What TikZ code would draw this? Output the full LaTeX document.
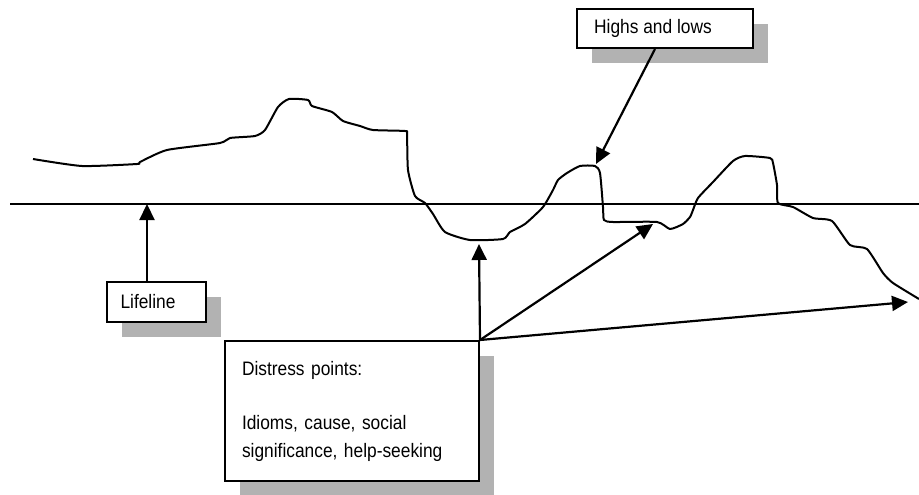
\documentclass[tikz,border=0pt]{standalone}
\usepackage{fontspec}
\setmainfont{Liberation Sans}[FakeStretch=0.89]
\usetikzlibrary{arrows.meta,shadows}

\begin{document}
\begin{tikzpicture}[x=1pt,y=-1pt,
   every node/.style={font=\fontsize{19.5}{28}\selectfont},
   note/.style={draw,line width=2pt,fill=white,inner sep=0pt,
      drop shadow={shadow xshift=15pt,shadow yshift=-15pt,fill=black!30,opacity=1}},
   pointer/.style={line width=2.2pt,-{Triangle[length=16pt,width=15pt]}}]
\useasboundingbox (0,0) rectangle (919,495);

% baseline of the lifeline
\coordinate (ll) at (10,204);
\coordinate (lr) at (919,204);
\draw[line width=1.6pt] (ll) -- (lr);

% the life course
\draw[line width=2pt,line join=round] plot[smooth,tension=0.35] coordinates {
  (33,159) (82,166) (137,164) (140,162) (167,150) (220,143) (230,138)
  (255,136) (265,130) (278,107) (289,99) (308,100) (312,106) (332,112)
  (343,121) (360,126) (373,130) (405,131) (407,134) (408,170) (415,196)
  (425,203) (433,214) (445,232) (470,240) (503,239) (510,232) (525,224)
  (543,207) (553,190) (558,180) (567,173) (580,166) (595,166) (600,173)
  (603,207) (604,220) (613,222) (657,222) (670,229) (683,224) (690,217)
  (693,210) (698,198) (713,182) (733,161) (745,156) (770,158) (773,163)
  (777,185) (778,203) (793,207) (813,218) (832,221) (850,245) (867,249)
  (883,273) (893,283) (919,299)};

\coordinate (cross) at (147,204);
\coordinate (peak) at (596,164);
\coordinate (dip) at (479,244);
\coordinate (flat) at (653,224);
\coordinate (tail) at (908,302);

\node[note,minimum width=176pt,minimum height=39pt] (highs) at (665,28.5)
   {\hspace*{-24pt}Highs and lows};
\node[note,minimum width=99pt,minimum height=40pt] (lifeline) at (156.5,302)
   {\hspace*{-17pt}Lifeline};
\node[note,minimum width=254pt,minimum height=140pt,align=left,
   text width=220pt] (distress) at (352,411)
   {Distress points:\\[26pt]Idioms, cause, social\\significance, help-seeking\\[6pt]};

\draw[pointer] ([xshift=-10pt]highs.south) -- (peak);
\draw[pointer] (lifeline.north -| cross) -- (cross);
\draw[pointer] (distress.north east) -- (dip);
\draw[pointer] (distress.north east) -- (flat);
\draw[pointer] (distress.north east) -- (tail);
\end{tikzpicture}
\end{document}
